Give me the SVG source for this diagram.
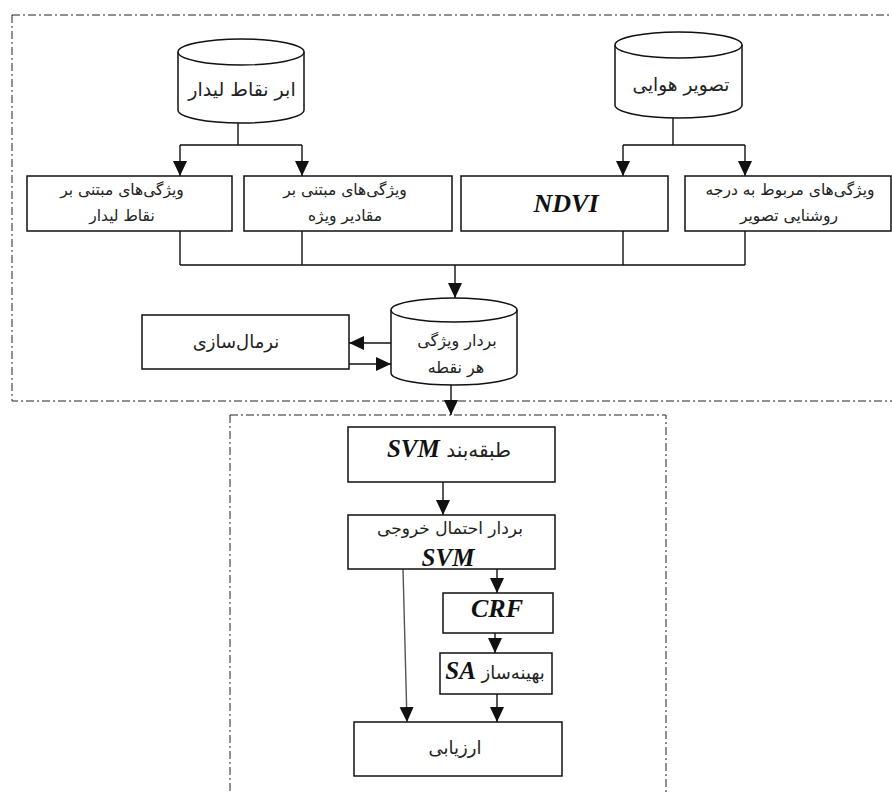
<svg xmlns="http://www.w3.org/2000/svg" width="892" height="792" viewBox="0 0 892 792">
<defs>
<marker id="ah" markerUnits="userSpaceOnUse" markerWidth="15" markerHeight="15" refX="15" refY="7" orient="auto">
<path d="M0,0 L15,7 L0,14 Z" fill="#111"/>
</marker>
<style>
.frame{fill:none;stroke:#222;stroke-width:1;stroke-dasharray:8 3 2 3}
.box{fill:#fff;stroke:#111;stroke-width:1.5}
.cyl{fill:#fff;stroke:#111;stroke-width:1.5}
.ln{fill:none;stroke:#111;stroke-width:1.4}
.arr{fill:none;stroke:#111;stroke-width:1.4;marker-end:url(#ah)}
.fa{font-family:"DejaVu Sans","Noto Sans",sans-serif;fill:#222;text-anchor:middle;direction:rtl}
.t15{font-size:15.5px}
.lat{font-family:"Liberation Serif","Times New Roman",serif;font-weight:bold;font-style:italic;fill:#111}
</style>
</defs>
<rect width="892" height="792" fill="#fff"/>
<rect class="frame" x="12" y="15" width="890" height="386"/>
<rect class="frame" x="230" y="415" width="436" height="400"/>

<g id="connectors">
<path class="ln" d="M238,123 V145 M180,145 H302"/>
<path class="arr" d="M180,145 V176"/>
<path class="arr" d="M302,145 V176"/>
<path class="ln" d="M673,118 V145 M623,145 H745"/>
<path class="arr" d="M623,145 V176"/>
<path class="arr" d="M745,145 V176"/>
<path class="ln" d="M180,231 V265 M302,231 V265 M623,231 V265 M745,231 V265 M180,265 H745"/>
<path class="arr" d="M455,265 V298"/>
<path class="arr" d="M391,343 H349"/>
<path class="arr" d="M349,364 H391"/>
<path class="arr" d="M451,385 V415"/>
<path class="arr" d="M443,482 V515"/>
<path class="arr" d="M497,569 V593"/>
<path class="arr" d="M495,633 V653"/>
<path class="arr" d="M497,694 V722"/>
<path class="arr" d="M403,569 L407,722" style="stroke:#555"/>
</g>

<g id="lidar">
<path class="cyl" d="M178,52 A63,13 0 0 1 304,52 V110 A63,13 0 0 1 178,110 Z"/>
<path class="ln" d="M178,52 A63,13 0 0 0 304,52"/>
<text class="fa" x="242" y="96" font-size="19">ابر نقاط لیدار</text>
</g>

<g id="aerial">
<path class="cyl" d="M615,45 A63.5,13 0 0 1 742,45 V105 A63.5,13 0 0 1 615,105 Z"/>
<path class="ln" d="M615,45 A63.5,13 0 0 0 742,45"/>
<text class="fa" x="681" y="91" font-size="18.5">تصویر هوایی</text>
</g>

<g id="lidarFeat">
<rect class="box" x="27" y="176" width="205" height="55"/>
<text class="fa t15" x="122" y="195">ویژگی‌های مبتنی بر</text>
<text class="fa t15" x="122" y="221">نقاط لیدار</text>
</g>

<g id="eigenFeat">
<rect class="box" x="244" y="176" width="208" height="55"/>
<text class="fa t15" x="345" y="195">ویژگی‌های مبتنی بر</text>
<text class="fa t15" x="345" y="221">مقادیر ویژه</text>
</g>

<g id="ndvi">
<rect class="box" x="461" y="176" width="207" height="55"/>
<text class="lat" x="566" y="212" font-size="26" text-anchor="middle">NDVI</text>
</g>

<g id="brightFeat">
<rect class="box" x="685" y="176" width="206" height="55"/>
<text class="fa t15" x="790" y="195">ویژگی‌های مربوط به درجه</text>
<text class="fa t15" x="789" y="221">روشنایی تصویر</text>
</g>

<g id="featVec">
<path class="cyl" d="M391,310 A63,12 0 0 1 517,310 V373 A63,12 0 0 1 391,373 Z"/>
<path class="ln" d="M391,310 A63,12 0 0 0 517,310"/>
<text class="fa" x="457" y="346" font-size="16">بردار ویژگی</text>
<text class="fa" x="456" y="373" font-size="16">هر نقطه</text>
</g>

<g id="normalize">
<rect class="box" x="142" y="315" width="207" height="54"/>
<text class="fa" x="236" y="348" font-size="18">نرمال‌سازی</text>
</g>

<g id="svm">
<rect class="box" x="348" y="427" width="207" height="55"/>
<text class="fa" x="449" y="457" font-size="20">طبقه‌بند <tspan class="lat" font-size="25">SVM</tspan></text>
</g>

<g id="prob">
<rect class="box" x="348" y="515" width="207" height="54"/>
<text class="fa" x="450" y="534" font-size="17">بردار احتمال خروجی</text>
<text class="lat" x="448" y="566" font-size="25" text-anchor="middle">SVM</text>
</g>

<g id="crf">
<rect class="box" x="443" y="593" width="110" height="40"/>
<text class="lat" x="497" y="617" font-size="26" text-anchor="middle">CRF</text>
</g>

<g id="sa">
<rect class="box" x="440" y="653" width="112" height="41"/>
<text class="fa" x="495" y="679" font-size="18">بهینه‌ساز <tspan class="lat" font-size="25">SA</tspan></text>
</g>

<g id="eval">
<rect class="box" x="354" y="722" width="208" height="54"/>
<text class="fa" x="455" y="754" font-size="18">ارزیابی</text>
</g>
</svg>
